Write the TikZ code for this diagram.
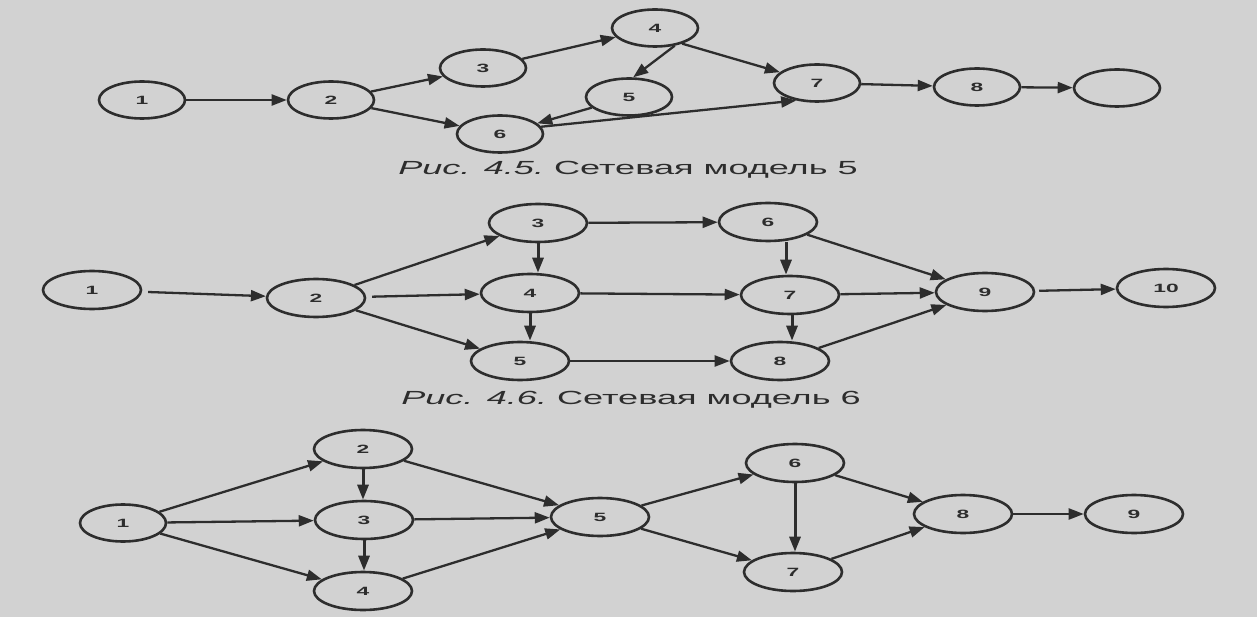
\documentclass[tikz,border=0pt]{standalone}
\usepackage{fontspec}
\setmainfont{Liberation Sans}
\usetikzlibrary{shapes.geometric,arrows.meta}
\definecolor{paper}{RGB}{210,210,210}
\definecolor{ink}{RGB}{45,45,45}
\newcommand{\sxd}[1]{\scalebox{1.9}[1]{\fontsize{12}{12}\selectfont\bfseries #1}}
\newcommand{\sxc}[1]{\scalebox{1.9}[1]{\fontsize{19}{20}\selectfont #1}}
\tikzset{
  ev/.style={ellipse, draw=ink, line width=2.6pt, minimum width=86pt, minimum height=37pt, inner sep=0pt, text=ink},
  evb/.style={ev, minimum width=98pt, minimum height=38pt},
  arr/.style={draw=ink, line width=2.3pt, -{Triangle[length=15pt,width=11pt]}},
  varr/.style={arr, line width=3pt},
  captxt/.style={text=ink, inner sep=0pt}
}
\begin{document}
\begin{tikzpicture}[x=1pt,y=-1pt]
\fill[paper] (0,0) rectangle (1257,617);
\useasboundingbox (0,0) rectangle (1257,617);
% ---------- Model 5 ----------
\node[ev] (a1) at (142,100) {\sxd{1}};
\node[ev] (a2) at (331,100) {\sxd{2}};
\node[ev] (a3) at (483,68) {\sxd{3}};
\node[ev] (a4) at (655,28) {\sxd{4}};
\node[ev] (a5) at (629,97) {\sxd{5}};
\node[ev] (a6) at (500,134) {\sxd{6}};
\node[ev] (a7) at (817,83) {\sxd{7}};
\node[ev] (a8) at (977,87) {\sxd{8}};
\node[ev] (a9) at (1117,88) {};
\draw[arr] (a1) -- (a2);
\draw[arr] (a2) -- (a3);
\draw[arr] (a2) -- (a6);
\draw[arr] (a3) -- (a4);
\draw[arr] (a4.318) -- (a5.78);
\draw[arr] (a4.330) -- (a7);
\draw[arr] (a5) -- (a6);
\draw[arr] (a6.10) -- (a7.220);
\draw[arr] (a7) -- (a8);
\draw[arr] (a8) -- (a9);
\node[captxt] (c1) at (628,170) {\sxc{\itshape Рис. 4.5.}\sxc{ Сетевая модель 5}};
% ---------- Model 6 ----------
\node[evb] (b1) at (92,290) {\sxd{1}};
\node[evb] (b2) at (316,298) {\sxd{2}};
\node[evb] (b3) at (538,223) {\sxd{3}};
\node[evb] (b4) at (530,293) {\sxd{4}};
\node[evb] (b5) at (520,361) {\sxd{5}};
\node[evb] (b6) at (768,222) {\sxd{6}};
\node[evb] (b7) at (790,295) {\sxd{7}};
\node[evb] (b8) at (780,361) {\sxd{8}};
\node[evb] (b9) at (985,292) {\sxd{9}};
\node[evb] (b10) at (1166,288) {\sxd{10}};
\draw[arr, shorten <=6pt] (b1) -- (b2);
\draw[arr] (b2) -- (b3);
\draw[arr, shorten <=6pt] (b2) -- (b4);
\draw[arr] (b2) -- (b5);
\draw[varr] (b3.south) -- (b3.south |- b4.north);
\draw[arr] (b3) -- (b6);
\draw[varr] (b4.south) -- (b4.south |- b5.north);
\draw[arr] (b4) -- (b7);
\draw[arr] (b5) -- (b8);
\draw[varr] (b6.south) ++(18,0) coordinate (b6s) -- (b6s |- b7.north);
\draw[arr] (b6) -- (b9);
\draw[varr] (b7.south) ++(2,0) coordinate (b7s) -- (b7s |- b8.north);
\draw[arr] (b7) -- (b9);
\draw[arr] (b8) -- (b9);
\draw[arr, shorten <=4pt] (b9) -- (b10);
\node[captxt] (c2) at (631,400) {\sxc{\itshape Рис. 4.6.}\sxc{ Сетевая модель 6}};
% ---------- Model 7 ----------
\node[ev] (d1) at (123,523) {\sxd{1}};
\node[evb] (d2) at (363,449) {\sxd{2}};
\node[evb] (d3) at (364,520) {\sxd{3}};
\node[evb] (d4) at (363,591) {\sxd{4}};
\node[evb] (d5) at (600,517) {\sxd{5}};
\node[evb] (d6) at (795,463) {\sxd{6}};
\node[evb] (d7) at (793,572) {\sxd{7}};
\node[evb] (d8) at (963,514) {\sxd{8}};
\node[evb] (d9) at (1134,514) {\sxd{9}};
\draw[arr] (d1) -- (d2);
\draw[arr] (d1) -- (d3);
\draw[arr] (d1) -- (d4);
\draw[varr] (d2.south) -- (d2.south |- d3.north);
\draw[arr] (d2) -- (d5);
\draw[varr] (d3.south) -- (d3.south |- d4.north);
\draw[arr] (d3) -- (d5);
\draw[arr] (d4) -- (d5);
\draw[arr] (d5) -- (d6);
\draw[arr] (d5) -- (d7);
\draw[varr] (d6.south) -- (d6.south |- d7.north);
\draw[arr] (d6) -- (d8);
\draw[arr] (d7) -- (d8);
\draw[arr] (d8) -- (d9);
\end{tikzpicture}
\end{document}
